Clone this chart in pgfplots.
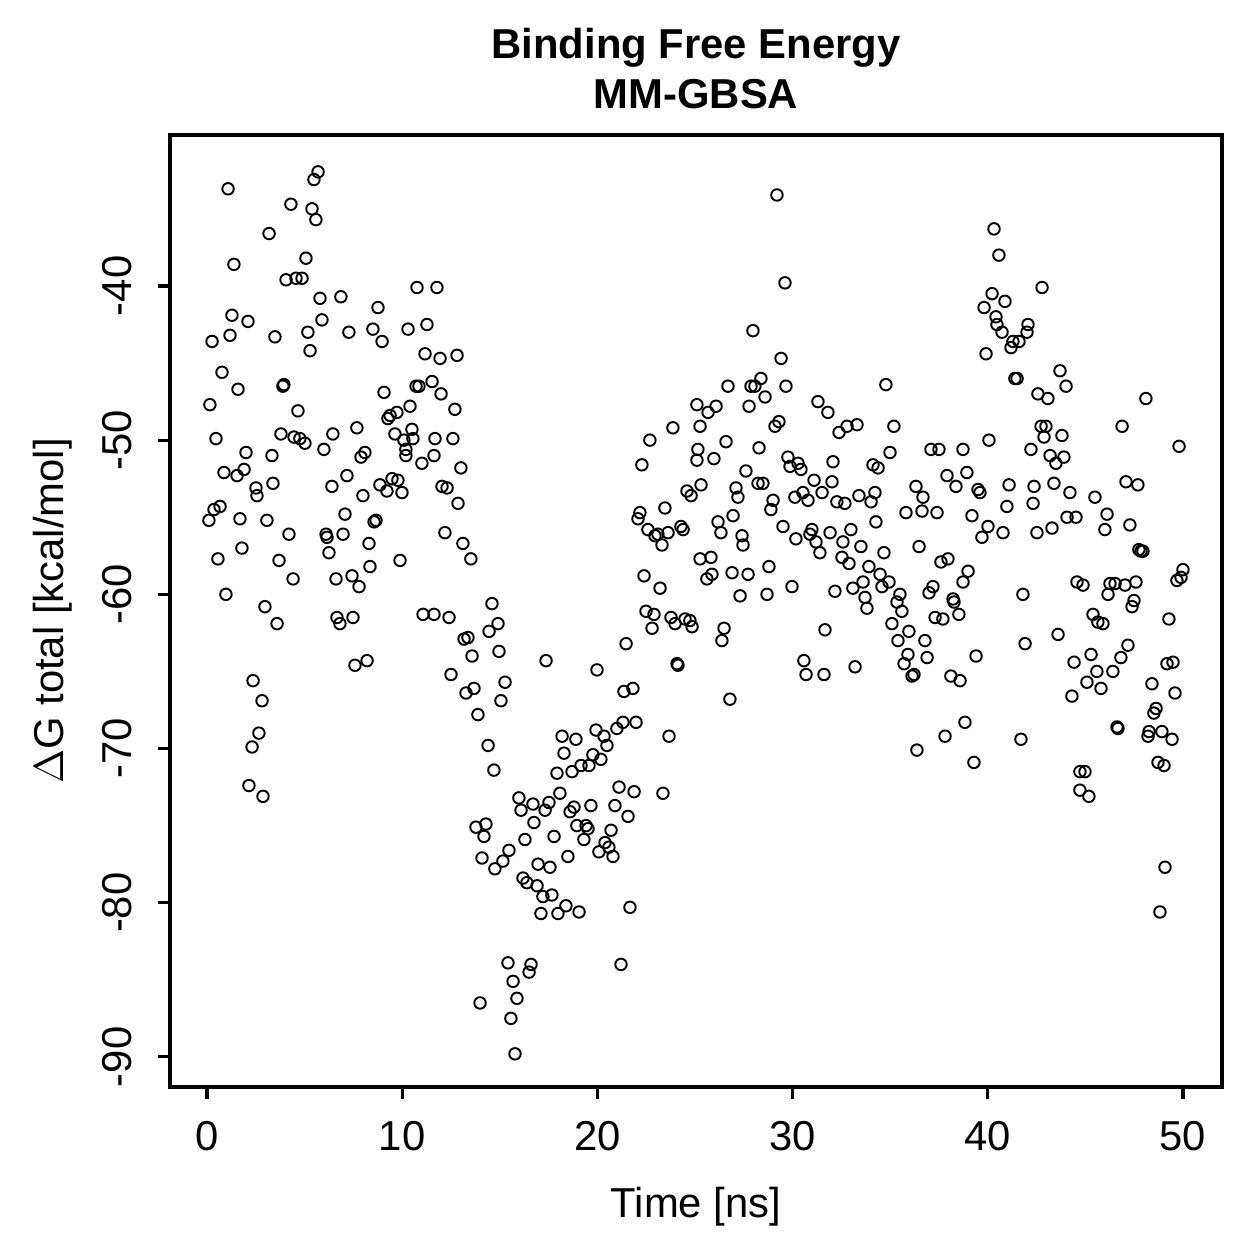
\documentclass[border=0pt]{standalone}
\usepackage{fontspec}
\setmainfont{Liberation Sans}
\usepackage{pgfplots}
\usepackage{pgfplotstable}
\pgfplotsset{compat=1.18}

% MM-GBSA binding free energy per frame: time [ns], Delta G total [kcal/mol]
\pgfplotstableread{
t dG
1.08 -33.7
5.69 -32.6
5.48 -33.1
4.30 -34.7
5.38 -35.0
5.58 -35.7
3.18 -36.6
1.38 -38.6
5.07 -38.2
4.05 -39.6
4.56 -39.5
4.87 -39.5
5.79 -40.8
6.86 -40.7
8.76 -41.4
10.76 -40.1
11.78 -40.1
1.28 -41.9
2.10 -42.3
1.18 -43.2
0.26 -43.6
3.48 -43.3
5.17 -43.0
5.89 -42.2
7.27 -43.0
8.50 -42.8
8.97 -43.6
10.30 -42.8
11.27 -42.5
5.28 -44.2
11.17 -44.4
0.77 -45.6
1.59 -46.7
3.94 -46.4
3.89 -46.5
0.15 -47.7
4.66 -48.1
9.07 -46.9
10.71 -46.5
10.86 -46.5
11.53 -46.2
10.40 -47.8
9.73 -48.2
9.38 -48.4
9.27 -48.6
0.46 -49.9
3.79 -49.6
4.46 -49.8
4.76 -49.9
5.02 -50.2
6.45 -49.6
7.68 -49.2
9.63 -49.6
10.09 -50.0
10.55 -49.9
10.50 -49.3
10.19 -50.6
11.68 -49.9
2.00 -50.8
3.33 -51.0
5.99 -50.6
8.09 -50.8
7.89 -51.1
11.94 -44.7
12.81 -44.5
11.99 -47.0
12.70 -48.0
12.60 -49.9
22.69 -50.0
23.87 -49.2
25.10 -47.7
25.26 -49.1
25.15 -50.6
11.63 -51.0
29.20 -34.1
29.61 -39.8
27.97 -42.9
29.41 -44.7
26.69 -46.5
27.87 -46.5
28.07 -46.5
28.38 -46.0
29.66 -46.5
28.59 -47.2
27.77 -47.8
26.08 -47.8
25.67 -48.2
26.59 -50.1
29.30 -48.8
29.10 -49.1
28.28 -50.5
31.30 -47.5
31.81 -48.2
32.38 -49.5
32.79 -49.1
33.30 -49.0
34.78 -46.4
35.19 -49.1
34.99 -50.8
37.09 -50.6
37.50 -50.6
38.73 -50.6
25.97 -51.2
29.76 -51.1
40.32 -36.3
40.57 -38.0
42.78 -40.1
40.22 -40.5
40.88 -41.0
39.81 -41.4
40.42 -42.0
40.47 -42.5
40.73 -43.0
42.06 -42.5
42.01 -43.0
41.29 -43.6
41.60 -43.6
41.19 -44.0
39.91 -44.4
43.70 -45.5
44.01 -46.5
41.39 -46.0
41.50 -46.0
42.57 -47.0
43.08 -47.3
48.10 -47.3
42.73 -49.1
42.98 -49.1
42.88 -49.8
43.80 -49.7
46.88 -49.1
40.06 -50.0
42.21 -50.6
49.80 -50.4
43.19 -51.0
43.90 -51.1
0.87 -52.1
1.54 -52.3
1.90 -51.9
2.51 -53.1
2.56 -53.6
3.38 -52.8
0.67 -54.3
0.36 -54.5
0.10 -55.2
1.69 -55.1
3.07 -55.2
4.20 -56.1
1.79 -57.0
0.56 -57.7
3.69 -57.8
4.41 -59.0
0.97 -60.0
2.97 -60.8
3.59 -61.9
6.40 -53.0
7.17 -52.3
7.99 -53.6
7.07 -54.8
6.97 -56.1
6.10 -56.1
6.15 -56.3
6.25 -57.3
6.61 -59.0
7.43 -58.8
7.79 -59.5
8.30 -56.7
8.66 -55.2
8.56 -55.3
8.35 -58.2
8.86 -52.9
9.22 -53.3
9.48 -52.5
9.78 -52.6
9.99 -53.4
10.19 -51.0
11.01 -51.5
9.89 -57.8
6.66 -61.5
6.81 -61.9
7.48 -61.5
7.58 -64.6
8.20 -64.3
11.07 -61.3
11.63 -61.3
2.36 -65.6
2.82 -66.9
2.66 -69.0
2.31 -69.9
13.01 -51.8
12.04 -53.0
12.30 -53.1
12.86 -54.1
12.19 -56.0
13.11 -56.7
13.52 -57.7
22.28 -51.6
25.10 -51.3
25.31 -52.9
24.59 -53.3
24.80 -53.6
23.46 -54.4
22.18 -54.7
22.08 -55.1
22.59 -55.8
23.62 -56.0
24.28 -55.6
24.39 -55.8
22.95 -56.2
23.10 -56.1
23.31 -56.8
25.26 -57.7
22.39 -58.8
23.21 -59.6
22.49 -61.1
22.90 -61.3
22.80 -62.2
23.77 -61.5
23.98 -61.9
24.49 -61.6
24.74 -61.7
24.85 -62.1
21.47 -63.2
24.13 -64.6
24.08 -64.5
19.98 -64.9
21.36 -66.3
21.82 -66.1
23.67 -69.2
21.98 -68.3
21.31 -68.3
21.00 -68.7
19.93 -68.8
20.34 -69.2
20.49 -69.8
18.19 -69.2
18.90 -69.4
18.29 -70.3
19.77 -70.4
20.18 -70.7
19.57 -71.1
19.16 -71.1
18.70 -71.5
17.93 -71.6
17.37 -64.3
12.40 -61.5
14.60 -60.6
14.91 -61.9
14.45 -62.4
13.37 -62.8
13.17 -62.9
13.58 -64.0
14.96 -63.7
12.50 -65.2
15.27 -65.7
13.68 -66.1
13.27 -66.4
15.06 -66.9
13.88 -67.8
14.40 -69.8
14.70 -71.4
27.61 -52.0
28.23 -52.8
28.48 -52.8
27.10 -53.1
27.20 -53.7
29.00 -53.9
28.89 -54.5
26.95 -54.9
26.18 -55.3
26.33 -56.0
27.41 -56.2
27.46 -56.8
29.51 -55.6
30.17 -56.4
29.87 -51.7
30.28 -51.5
30.43 -51.9
32.07 -51.4
31.10 -52.6
32.02 -52.7
30.53 -53.4
30.12 -53.7
30.79 -53.9
31.51 -53.4
32.27 -54.0
32.68 -54.1
33.40 -53.6
34.02 -54.0
34.22 -53.4
34.12 -51.6
34.38 -51.8
30.99 -55.8
30.89 -56.1
31.20 -56.6
31.40 -57.3
31.92 -56.0
32.99 -55.8
32.58 -56.6
33.50 -56.9
32.53 -57.6
32.89 -58.0
34.27 -55.3
34.68 -57.3
33.91 -58.2
34.48 -58.7
34.94 -59.2
34.58 -59.5
33.61 -59.2
33.09 -59.6
33.71 -60.2
33.81 -60.9
32.17 -59.8
35.50 -60.0
35.35 -60.5
35.60 -61.1
35.09 -61.9
35.96 -62.4
35.40 -63.0
36.78 -63.0
35.91 -63.9
36.89 -64.1
35.71 -64.5
36.12 -65.3
36.22 -65.2
36.32 -53.0
36.68 -53.7
35.81 -54.7
36.63 -54.6
37.40 -54.7
37.91 -52.3
38.37 -53.0
38.93 -52.1
36.48 -56.9
37.60 -57.9
37.96 -57.7
38.99 -58.5
38.73 -59.2
36.99 -59.9
37.19 -59.5
38.22 -60.3
38.27 -60.5
37.30 -61.5
37.70 -61.6
38.52 -61.3
38.11 -65.3
38.58 -65.6
38.83 -68.3
37.81 -69.2
36.37 -70.1
28.79 -58.2
29.97 -59.5
26.90 -58.6
27.72 -58.7
28.69 -60.0
27.31 -60.1
25.87 -58.7
25.61 -59.0
25.82 -57.6
26.49 -62.2
26.38 -63.0
31.66 -62.3
30.58 -64.3
30.69 -65.2
31.61 -65.2
33.20 -64.7
26.79 -66.8
39.50 -53.2
39.60 -53.4
39.19 -54.9
40.01 -55.6
39.70 -56.3
40.78 -56.0
40.98 -54.3
41.09 -52.9
42.37 -53.0
42.32 -54.1
42.52 -56.0
43.29 -55.7
43.39 -52.8
43.49 -51.5
44.21 -53.4
44.06 -55.0
44.52 -55.0
45.49 -53.7
46.11 -54.8
46.00 -55.8
47.08 -52.7
47.69 -52.9
47.28 -55.5
47.74 -57.1
47.85 -57.2
47.95 -57.2
41.80 -60.0
44.57 -59.2
44.88 -59.4
46.16 -60.0
46.26 -59.3
46.52 -59.3
47.03 -59.4
47.59 -59.2
47.49 -60.4
47.39 -60.8
50.00 -58.4
49.90 -58.9
49.69 -59.1
49.28 -61.6
45.39 -61.3
45.64 -61.8
45.90 -61.9
43.60 -62.6
41.91 -63.2
39.40 -64.0
45.29 -63.9
44.42 -64.4
46.82 -64.1
47.18 -63.3
45.59 -65.0
46.41 -65.0
45.08 -65.7
45.80 -66.1
44.31 -66.6
48.41 -65.8
49.18 -64.5
49.49 -64.4
49.59 -66.4
48.62 -67.4
48.51 -67.7
46.62 -68.6
46.67 -68.7
48.26 -68.9
48.21 -69.2
48.92 -68.9
49.44 -69.4
41.70 -69.4
39.29 -70.9
44.72 -71.5
44.98 -71.5
48.72 -70.9
49.03 -71.1
2.15 -72.4
2.87 -73.1
21.11 -72.5
21.88 -72.8
23.36 -72.9
18.08 -72.9
15.98 -73.2
16.70 -73.6
17.52 -73.5
17.32 -74.0
16.09 -74.0
18.80 -73.8
18.60 -74.1
19.67 -73.7
20.90 -73.7
21.57 -74.4
16.75 -74.8
13.78 -75.1
14.29 -74.9
14.19 -75.7
18.95 -75.0
19.42 -75.0
19.52 -75.2
19.31 -75.9
20.70 -75.3
17.78 -75.7
16.29 -75.9
20.39 -76.1
20.59 -76.4
20.08 -76.7
20.80 -77.0
18.49 -77.0
15.47 -76.6
14.09 -77.1
15.16 -77.3
14.75 -77.8
16.96 -77.5
17.57 -77.7
16.19 -78.4
16.39 -78.7
16.91 -78.9
17.21 -79.6
17.67 -79.5
18.39 -80.2
17.11 -80.7
17.98 -80.7
19.06 -80.6
21.67 -80.3
15.42 -83.9
16.60 -84.0
16.50 -84.5
21.21 -84.0
15.68 -85.1
13.99 -86.5
15.88 -86.2
15.57 -87.5
15.78 -89.8
44.72 -72.7
45.18 -73.1
49.08 -77.7
48.82 -80.6
}\energy

\begin{document}
\begin{tikzpicture}
\useasboundingbox (0,0) rectangle (361.35pt,361.35pt);
\begin{axis}[
  at={(48.79pt,49.37pt)}, anchor=south west,
  scale only axis, width=301.94pt, height=273.23pt,
  xmin=-1.895, xmax=52.0, ymin=-91.95, ymax=-30.21,
  axis line style={line width=0.9pt},
  tick pos=left, tick align=outside,
  major tick length=3.45pt,
  tick style={line width=0.9pt, black},
  xtick={0,10,20,30,40,50},
  xticklabels={0,10,20,30,40,50},
  ytick={-90,-80,-70,-60,-50,-40},
  yticklabels={-90,-80,-70,-60,-50,-40},
  ticklabel style={font=\fontsize{12}{14.4}\selectfont, inner sep=0pt},
  xticklabel style={anchor=north, yshift=-6.3pt},
  yticklabel style={xshift=-7.4pt, rotate=90, anchor=south},
  xlabel={Time [ns]},
  ylabel={$\Delta$G total [kcal/mol]},
  label style={font=\fontsize{12}{14.4}\selectfont, inner sep=0pt},
  xlabel style={at={(axis description cs:0.5,-0.1376)}, anchor=base},
  ylabel style={at={(axis description cs:-0.1015,0.5)}, anchor=base, rotate=0},
  title={Binding Free Energy\\MM-GBSA},
  title style={at={(axis description cs:0.5,1.0045)}, anchor=south, inner sep=0pt,
    align=center, font=\bfseries\fontsize{12}{14.4}\selectfont},
]
\addplot[only marks, mark=o, mark size=1.65pt,
  mark options={line width=0.55pt, black}] table[x=t, y=dG] {\energy};
\end{axis}
\end{tikzpicture}
\end{document}
